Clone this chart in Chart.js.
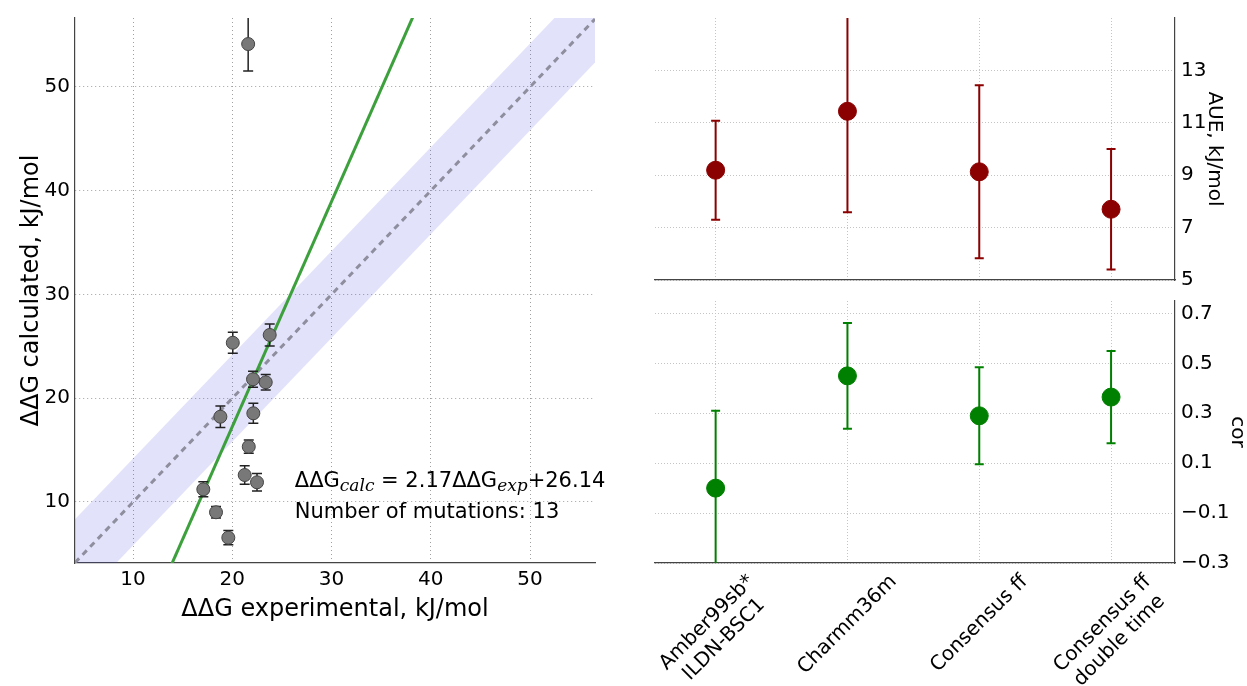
<!DOCTYPE html>
<html>
<head>
<meta charset="utf-8">
<title>ddG calculated vs experimental</title>
<script src="https://cdn.jsdelivr.net/npm/chart.js@4.4.1/dist/chart.umd.min.js"></script>
<style>
    body { margin: 0; background: #fff; }
    .wrap { position: relative; width: 1247px; height: 686px; }
    canvas { position: absolute; }
    #scatter { left: 0; top: 0; }
    #aue { left: 630px; top: 0; }
    #cor { left: 630px; top: 290px; }
</style>
</head>
<body>
<div class="wrap">
    <canvas id="scatter" width="630" height="686"></canvas>
    <canvas id="aue" width="617" height="290"></canvas>
    <canvas id="cor" width="617" height="396"></canvas>
</div>
<script>
// Left panel: calculated vs experimental ddG (kJ/mol)
const expValues  = [21.6, 20.05, 23.77, 22.09, 23.37, 18.8, 22.12, 21.66, 21.25, 22.49, 17.08, 18.36, 19.6];
const calcValues = [54.14, 25.35, 26.1, 21.83, 21.54, 18.22, 18.55, 15.33, 12.6, 11.9, 11.22, 9.01, 6.56];
const calcErrors = [2.6, 1.01, 1.06, 0.77, 0.75, 1.03, 0.96, 0.64, 0.9, 0.85, 0.72, 0.56, 0.69];
const fitSlope = 2.17;
const fitIntercept = -26.14;
const fitLabel = '+26.14';
const bandHalfWidth = 4.184; // 1 kcal/mol
const scatterTicks = [10, 20, 30, 40, 50];

// Right panels: force fields
const forceFields = [['Amber99sb*', 'ILDN-BSC1'], 'Charmm36m', 'Consensus ff', ['Consensus ff', 'double time']];
const aueValues = [9.19, 11.44, 9.13, 7.7];
const aueErrors = [1.89, 3.85, 3.3, 2.3];
const aueTicks = [5, 7, 9, 11, 13];
const corValues = [0.0, 0.45, 0.29, 0.365];
const corErrors = [0.31, 0.212, 0.194, 0.185];
const corTicks = [-0.3, -0.1, 0.1, 0.3, 0.5, 0.7];

Chart.defaults.font.family = '"DejaVu Sans", sans-serif';
Chart.defaults.color = '#000';

const xMin = 4.15, xMax = 56.55, yMin = 4.12, yMax = 56.65;

// error bars are drawn just before the marker dataset so markers sit on top
const errorBarPlugin = {
    id: 'errorBars',
    beforeDatasetDraw(chart, args) {
        const ds = chart.data.datasets[args.index];
        if (!ds.errorBars) return;
        const {ctx, chartArea, scales} = chart;
        ctx.save();
        ctx.beginPath();
        ctx.rect(chartArea.left, chartArea.top, chartArea.right - chartArea.left, chartArea.bottom - chartArea.top);
        ctx.clip();
        ctx.strokeStyle = ds.errorColor;
        ctx.lineWidth = ds.errorWidth;
        ds.data.forEach((p, i) => {
            const x = scales.x.getPixelForValue(p.x);
            const lo = scales.y.getPixelForValue(p.y - ds.errorBars[i]);
            const hi = scales.y.getPixelForValue(p.y + ds.errorBars[i]);
            ctx.beginPath();
            ctx.moveTo(x, lo); ctx.lineTo(x, hi);
            ctx.moveTo(x - ds.capSize, lo); ctx.lineTo(x + ds.capSize, lo);
            ctx.moveTo(x - ds.capSize, hi); ctx.lineTo(x + ds.capSize, hi);
            ctx.stroke();
        });
        ctx.restore();
    }
};

// fit equation + count, with math-style subscripts
const fitNotePlugin = {
    id: 'fitNote',
    afterDatasetsDraw(chart) {
        const {ctx, scales} = chart;
        const x0 = scales.x.getPixelForValue(26.3);
        const y1 = scales.y.getPixelForValue(11.45);
        const y2 = scales.y.getPixelForValue(8.46);
        const main = '21px "DejaVu Sans"';
        const sub = 'italic 17px "DejaVu Serif"';
        const parts = [
            ['ΔΔG', main, 0], ['calc', sub, 4],
            [' = ' + fitSlope.toFixed(2) + 'ΔΔG', main, 0], ['exp', sub, 4],
            [fitLabel, main, 0]
        ];
        ctx.save();
        ctx.fillStyle = '#000';
        ctx.textAlign = 'left';
        ctx.textBaseline = 'alphabetic';
        let x = x0;
        parts.forEach(([t, f, dy]) => {
            ctx.font = f;
            ctx.fillText(t, x, y1 + dy);
            x += ctx.measureText(t).width;
        });
        ctx.font = main;
        ctx.fillText('Number of mutations: ' + expValues.length, x0, y2);
        ctx.restore();
    }
};

// rotated, centred category labels (like matplotlib rotation=45, ha=center)
const rotatedLabelPlugin = {
    id: 'rotatedLabels',
    afterDraw(chart) {
        const {ctx, scales, chartArea} = chart;
        const lh = 24;
        ctx.save();
        ctx.font = '20px "DejaVu Sans"';
        ctx.fillStyle = '#000';
        ctx.textAlign = 'center';
        ctx.textBaseline = 'middle';
        forceFields.forEach((lab, i) => {
            const lines = Array.isArray(lab) ? lab : [lab];
            const w = Math.max(...lines.map(l => ctx.measureText(l).width));
            const d = (w + lines.length * lh) / Math.SQRT2;
            const cx = scales.x.getPixelForValue(i);
            const cy = chartArea.bottom + 7 + d / 2;
            ctx.save();
            ctx.translate(cx, cy);
            ctx.rotate(-Math.PI / 4);
            lines.forEach((l, j) => ctx.fillText(l, 0, (j - (lines.length - 1) / 2) * lh));
            ctx.restore();
        });
        ctx.restore();
    }
};

function fixTicks(values) {
    return scale => { scale.ticks = values.map(v => ({value: v})); };
}
function fixSize(prop, size) {
    return scale => {
        scale[prop] = size;
        scale.paddingLeft = 0; scale.paddingRight = 0;
        scale.paddingTop = 0; scale.paddingBottom = 0;
    };
}
const minus = v => (v < 0 ? '\u2212' : '') + Math.abs(v).toFixed(1);

// ---------- left panel ----------
new Chart(document.getElementById('scatter'), {
    type: 'scatter',
    data: {
        datasets: [
            {
                type: 'scatter',
                data: expValues.map((x, i) => ({x: x, y: calcValues[i]})),
                errorBars: calcErrors,
                errorColor: '#222',
                errorWidth: 1.5,
                capSize: 5,
                pointRadius: 6.5,
                pointBackgroundColor: '#787878',
                pointBorderColor: '#444',
                pointBorderWidth: 1
            },
            {
                type: 'line',
                data: [{x: xMin, y: fitSlope * xMin + fitIntercept}, {x: xMax, y: fitSlope * xMax + fitIntercept}],
                borderColor: '#3ca03c',
                borderWidth: 3,
                pointRadius: 0,
                fill: false
            },
            {
                type: 'line',
                data: [{x: xMin, y: xMin}, {x: xMax, y: xMax}],
                borderColor: '#8e8e9e',
                borderWidth: 3,
                borderDash: [6, 5],
                pointRadius: 0,
                fill: false
            },
            {
                type: 'line',
                data: [{x: xMin, y: xMin + bandHalfWidth}, {x: xMax, y: xMax + bandHalfWidth}],
                borderWidth: 0,
                borderColor: 'rgba(0,0,0,0)',
                backgroundColor: 'rgba(60,60,230,0.15)',
                pointRadius: 0,
                fill: '+1'
            },
            {
                type: 'line',
                data: [{x: xMin, y: xMin - bandHalfWidth}, {x: xMax, y: xMax - bandHalfWidth}],
                borderWidth: 0,
                borderColor: 'rgba(0,0,0,0)',
                pointRadius: 0,
                fill: false
            }
        ]
    },
    options: {
        responsive: false,
        animation: false,
        layout: { autoPadding: false, padding: {top: 18, right: 35, left: 0, bottom: 0} },
        plugins: { legend: { display: false }, tooltip: { enabled: false } },
        scales: {
            x: {
                type: 'linear', min: xMin, max: xMax,
                afterBuildTicks: fixTicks(scatterTicks),
                afterFit: fixSize('height', 123),
                ticks: { font: {size: 20}, padding: 5, maxRotation: 0, autoSkip: false },
                grid: { color: '#a0a0a0', lineWidth: 1, drawTicks: false },
                border: { display: true, color: '#444', width: 1.2, dash: [1, 3] },
                title: { display: true, text: 'ΔΔG experimental, kJ/mol', font: {size: 24}, color: '#000', padding: {top: 0, bottom: 62} }
            },
            y: {
                type: 'linear', min: yMin, max: yMax,
                afterBuildTicks: fixTicks(scatterTicks),
                afterFit: fixSize('width', 75),
                ticks: { font: {size: 20}, padding: 5, autoSkip: false },
                grid: { color: '#a0a0a0', lineWidth: 1, drawTicks: false },
                border: { display: true, color: '#444', width: 1.2, dash: [1, 3] },
                title: { display: true, text: 'ΔΔG calculated, kJ/mol', font: {size: 24}, color: '#000', padding: {top: 17, bottom: 0} }
            }
        }
    },
    plugins: [errorBarPlugin, fitNotePlugin]
});

// ---------- right panels ----------
function sidePanel(canvasId, values, errors, color, ticks, yRange, opts) {
    return new Chart(document.getElementById(canvasId), {
        type: 'scatter',
        data: {
            datasets: [{
                data: values.map((v, i) => ({x: i, y: v})),
                errorBars: errors,
                errorColor: color,
                errorWidth: 2,
                capSize: 4.5,
                pointRadius: 9,
                pointBackgroundColor: color,
                pointBorderColor: color,
                pointBorderWidth: 1
            }]
        },
        options: {
            responsive: false,
            animation: false,
            layout: { autoPadding: false, padding: opts.padding },
            plugins: { legend: { display: false }, tooltip: { enabled: false } },
            scales: {
                x: {
                    type: 'linear', min: -0.46, max: 3.485,
                    afterBuildTicks: fixTicks([0, 1, 2, 3]),
                    afterFit: fixSize('height', opts.xHeight),
                    ticks: { display: false },
                    grid: { color: '#c4c4c4', lineWidth: 1, drawTicks: false },
                    border: { display: true, color: '#444', width: 1.2, dash: [1, 2] }
                },
                y: {
                    type: 'linear', position: 'right', min: yRange[0], max: yRange[1],
                    afterBuildTicks: fixTicks(ticks),
                    afterFit: fixSize('width', 72),
                    ticks: { font: {size: 20}, padding: 6, autoSkip: false, callback: opts.format },
                    grid: { color: '#c4c4c4', lineWidth: 1, drawTicks: false },
                    border: { display: true, color: '#444', width: 1.2, dash: [1, 2] },
                    title: { display: true, text: opts.title, font: {size: 20}, color: '#000', padding: {top: opts.titlePad, bottom: 0} }
                }
            }
        },
        plugins: opts.plugins
    });
}

sidePanel('aue', aueValues, aueErrors, '#8b0000', aueTicks, [5, 15], {
    padding: {left: 25, top: 18, right: 0, bottom: 10},
    xHeight: 0,
    title: 'AUE, kJ/mol',
    titlePad: 21,
    format: v => String(v),
    plugins: [errorBarPlugin]
});

sidePanel('cor', corValues, corErrors, '#008000', corTicks, [-0.3, 0.75], {
    padding: {left: 25, top: 11, right: 0, bottom: 0},
    xHeight: 123,
    title: 'cor',
    titlePad: -2,
    format: minus,
    plugins: [errorBarPlugin, rotatedLabelPlugin]
});
</script>
</body>
</html>
